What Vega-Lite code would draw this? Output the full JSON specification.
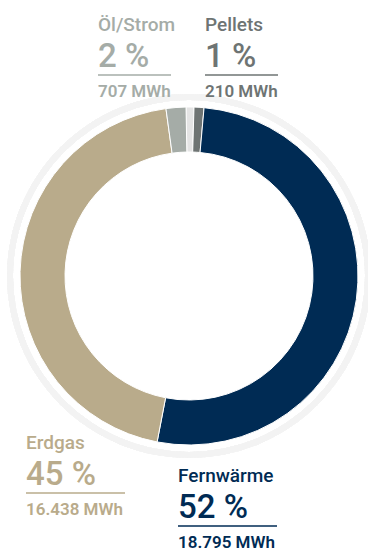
{
  "$schema": "https://vega.github.io/schema/vega-lite/v6.json",
  "width": 358,
  "height": 552,
  "autosize": {"type": "none"},
  "padding": {"left": 10, "top": 0, "right": 0, "bottom": 0},
  "background": "white",
  "config": {"view": {"stroke": null}, "font": "Roboto"},
  "data": {
    "values": [
      {"nr": 1, "kategorie": "Lücke", "anteil": 0.75, "prozent": "", "mwh": ""},
      {"nr": 2, "kategorie": "Pellets", "anteil": 0.95, "prozent": "1 %", "mwh": "210 MWh"},
      {"nr": 3, "kategorie": "Fernwärme", "anteil": 51.6, "prozent": "52 %", "mwh": "18.795 MWh"},
      {"nr": 4, "kategorie": "Erdgas", "anteil": 44.8, "prozent": "45 %", "mwh": "16.438 MWh"},
      {"nr": 5, "kategorie": "Öl/Strom", "anteil": 1.9, "prozent": "2 %", "mwh": "707 MWh"}
    ]
  },
  "layer": [
    {
      "mark": {"type": "arc", "radius": 182, "radius2": 176, "theta": 0, "theta2": 6.2832, "color": "#f3f3f3"},
      "encoding": {}
    },
    {
      "mark": {"type": "arc", "radius": 169, "radius2": 124, "stroke": "white", "strokeWidth": 1},
      "encoding": {
        "theta": {"field": "anteil", "type": "quantitative", "stack": true, "scale": {"range": [-0.0175, 6.2657]}},
        "order": {"field": "nr", "type": "quantitative"},
        "color": {
          "field": "kategorie", "type": "nominal", "legend": null,
          "scale": {
            "domain": ["Lücke", "Pellets", "Fernwärme", "Erdgas", "Öl/Strom"],
            "range": ["#e4e4e4", "#6e7473", "#002b54", "#b9ab8b", "#a5aca7"]
          }
        }
      }
    },
    {
      "transform": [{"filter": "datum.nr > 1"}],
      "mark": {"type": "text", "align": "left", "baseline": "alphabetic", "fontSize": 19, "fontWeight": 500},
      "encoding": {
        "x": {"field": "nr", "type": "quantitative", "axis": null, "scale": {"domain": [2, 3, 4, 5], "range": [195, 168, 16, 88], "nice": false, "zero": false}},
        "y": {"field": "nr", "type": "quantitative", "axis": null, "scale": {"domain": [2, 3, 4, 5], "range": [31, 482, 449, 31], "nice": false, "zero": false}},
        "text": {"field": "kategorie"},
        "color": {"field": "kategorie", "type": "nominal", "legend": null}
      }
    },
    {
      "transform": [{"filter": "datum.nr > 1"}],
      "mark": {"type": "text", "align": "left", "baseline": "alphabetic", "fontSize": 33, "fontWeight": 500, "dy": 36},
      "encoding": {
        "x": {"field": "nr", "type": "quantitative", "axis": null},
        "y": {"field": "nr", "type": "quantitative", "axis": null},
        "text": {"field": "prozent"},
        "color": {"field": "kategorie", "type": "nominal", "legend": null}
      }
    },
    {
      "transform": [{"filter": "datum.nr > 1"}],
      "mark": {"type": "text", "align": "left", "baseline": "alphabetic", "fontSize": 17, "fontWeight": 600, "dy": 66},
      "encoding": {
        "x": {"field": "nr", "type": "quantitative", "axis": null},
        "y": {"field": "nr", "type": "quantitative", "axis": null},
        "text": {"field": "mwh"},
        "color": {"field": "kategorie", "type": "nominal", "legend": null}
      }
    },
    {
      "transform": [{"filter": "datum.nr == 2 || datum.nr == 5"}],
      "mark": {"type": "rule", "strokeWidth": 1.5, "yOffset": 44, "y2Offset": 44, "x2Offset": 73},
      "encoding": {
        "x": {"field": "nr", "type": "quantitative", "axis": null},
        "x2": {"field": "nr"},
        "y": {"field": "nr", "type": "quantitative", "axis": null},
        "color": {"field": "kategorie", "type": "nominal", "legend": null}
      }
    },
    {
      "transform": [{"filter": "datum.nr == 3 || datum.nr == 4"}],
      "mark": {"type": "rule", "strokeWidth": 1.5, "yOffset": 44, "y2Offset": 44, "x2Offset": 99},
      "encoding": {
        "x": {"field": "nr", "type": "quantitative", "axis": null},
        "x2": {"field": "nr"},
        "y": {"field": "nr", "type": "quantitative", "axis": null},
        "color": {"field": "kategorie", "type": "nominal", "legend": null}
      }
    }
  ]
}
